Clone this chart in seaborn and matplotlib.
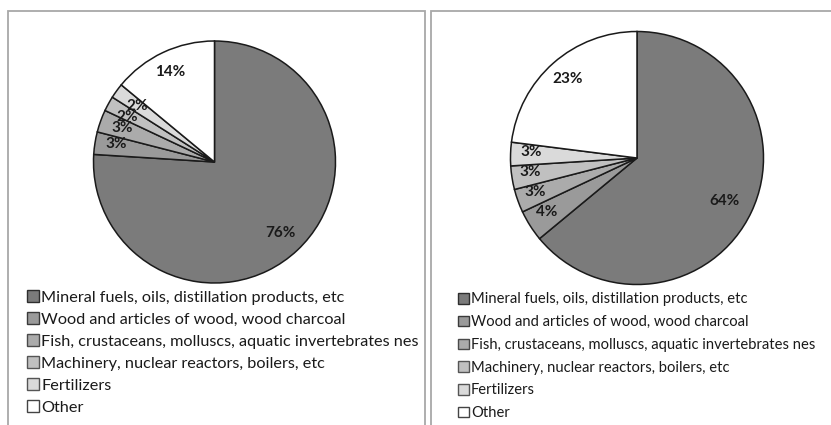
import numpy as np
import matplotlib
matplotlib.use("Agg")
import matplotlib.pyplot as plt
from matplotlib.patches import Patch, Rectangle
import seaborn as sns

# Product groups and their shares (%) for the two panels
categories = [
    "Mineral fuels, oils, distillation products, etc",
    "Wood and articles of wood, wood charcoal",
    "Fish, crustaceans, molluscs, aquatic invertebrates nes",
    "Machinery, nuclear reactors, boilers, etc",
    "Fertilizers",
    "Other",
]
share_left = [76, 3, 3, 2, 2, 14]
share_right = [64, 4, 3, 3, 3, 23]

sns.set_theme(style="white")
plt.rcParams["font.family"] = ["Lato", "DejaVu Sans"]

shades = ["#7b7b7b", "#9a9a9a", "#ababab", "#c0c0c0", "#dadada", "#ffffff"]
key_edges = ["#2e2e2e", "#3a3a3a", "#4a4a4a", "#555555", "#555555", "#444444"]

W, H = 831, 425
fig = plt.figure(figsize=(W / 100, H / 100), dpi=100)
fig.patch.set_facecolor("white")


def px_axes(cx, cy, r):
    """Square axes holding a unit pie centred at pixel (cx, cy) with radius r."""
    ax = fig.add_axes([(cx - r) / W, 1 - (cy + r) / H, 2 * r / W, 2 * r / H])
    return ax


def draw_pie(ax, values, label_r, label_shift, fs):
    wedges, _ = ax.pie(
        values, colors=shades, startangle=90, counterclock=False, radius=1.0,
        wedgeprops=dict(edgecolor="#1a1a1a", linewidth=1.1),
    )
    ax.set_xlim(-1, 1)
    ax.set_ylim(-1, 1)
    ax.set_aspect("equal")
    ax.axis("off")
    for w, v, rr, sh in zip(wedges, values, label_r, label_shift):
        mid = np.deg2rad((w.theta1 + w.theta2) / 2 + sh)
        ax.text(rr * np.cos(mid), rr * np.sin(mid), f"{v}%", ha="center", va="center",
                fontsize=fs, fontweight="bold", color="#1a1a1a")
    return wedges


def draw_key(anchor, fs, spacing):
    handles = [Patch(facecolor=c, edgecolor=e, linewidth=1.0) for c, e in zip(shades, key_edges)]
    fig.legend(handles, categories, loc="upper left", bbox_to_anchor=anchor,
               bbox_transform=fig.transFigure, frameon=False, fontsize=fs,
               handlelength=0.72, handleheight=0.72, handletextpad=0.15,
               labelspacing=spacing, borderpad=0, borderaxespad=0,
               labelcolor="#1a1a1a")


# Panel frames
for x0, x1 in [(8, 425), (431, 840)]:
    fig.add_artist(Rectangle((x0 / W, -0.05), (x1 - x0) / W, 1.05 - 11 / H,
                             transform=fig.transFigure, fill=False,
                             edgecolor="#a8a8a8", linewidth=1.3))

ax_l = px_axes(214.5, 162, 121)
draw_pie(ax_l, share_left,
         label_r=[0.80, 0.83, 0.81, 0.81, 0.79, 0.83],
         label_shift=[-0.5, -1.4, -0.4, 1.3, 0, 1.1], fs=11)

ax_r = px_axes(637, 158, 126.5)
draw_pie(ax_r, share_right,
         label_r=[0.77, 0.83, 0.85, 0.85, 0.84, 0.83],
         label_shift=[-1, -1.4, -1.2, -1.5, -1.4, 0], fs=11)

draw_key((27 / W, 1 - 290.5 / H), 11.7, 0.46)
draw_key((458 / W, 1 - 292.5 / H), 10.65, 0.59)

fig.savefig("out.png", dpi=100)
